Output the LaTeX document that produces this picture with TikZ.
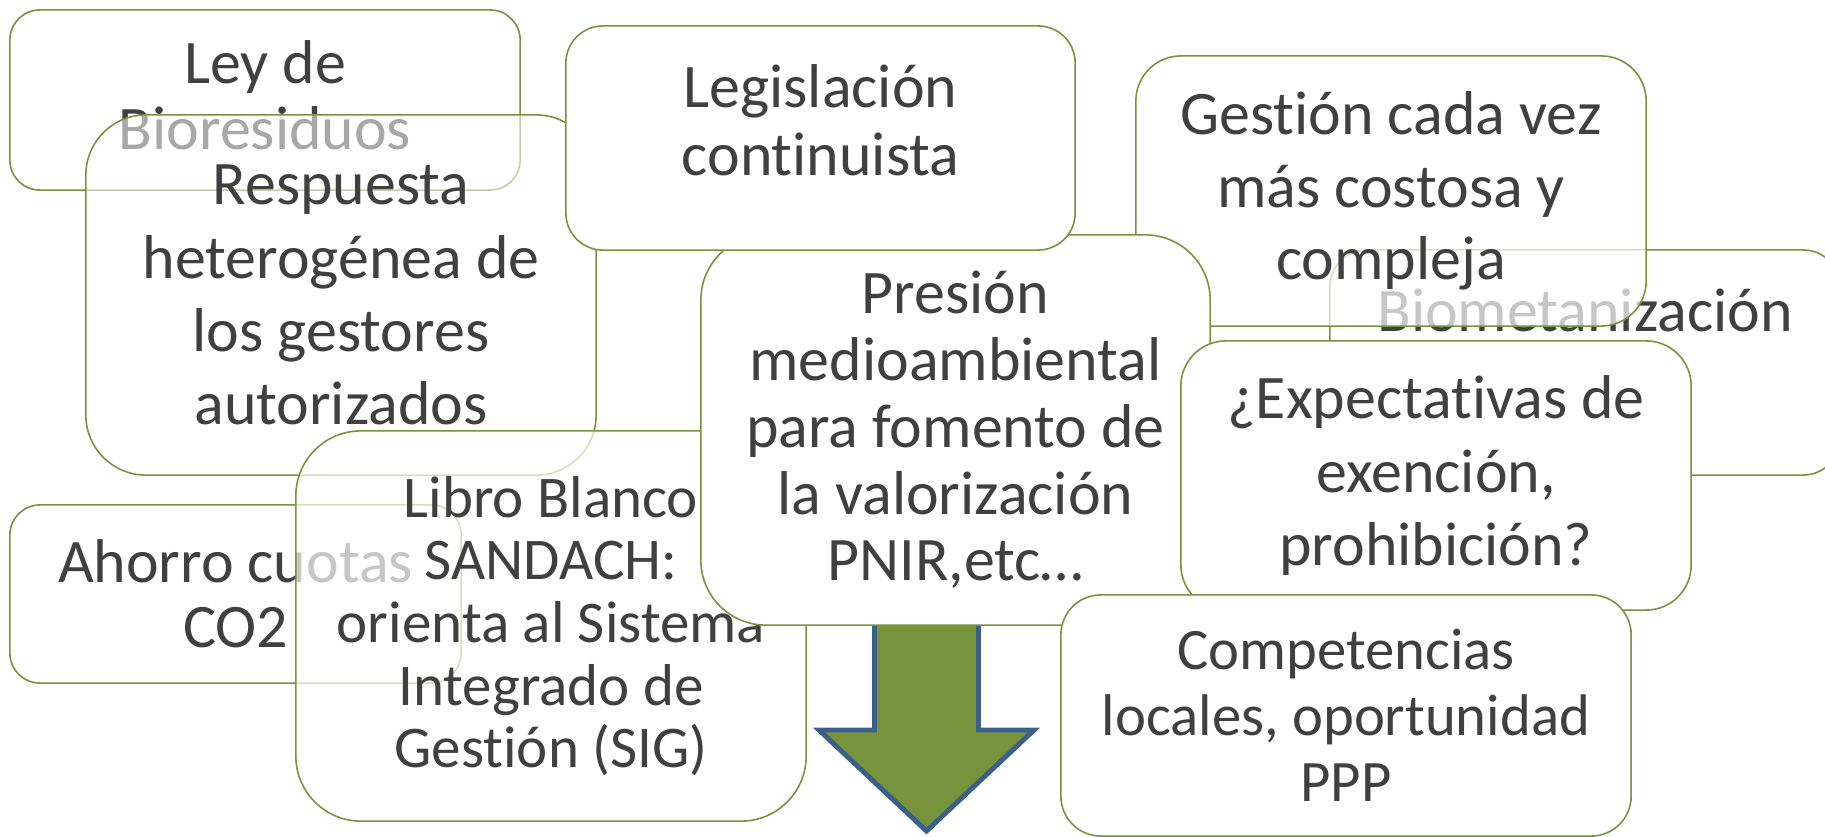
\documentclass[tikz,border=0pt]{standalone}
\usepackage{fontspec}
\setmainfont{Carlito}[Ligatures=CommonOff]
\usepackage{xcolor}
\definecolor{boxgreen}{HTML}{77933C}
\definecolor{txtgray}{HTML}{404040}
\definecolor{arrowblue}{HTML}{3A5F8B}

\begin{document}
\begin{tikzpicture}[x=0.01cm,y=-0.01cm]
        \tikzstyle{every node}+=[inner sep=0pt, outer sep=0pt]
        \tikzstyle{box}=[draw=boxgreen, line width=0.45pt, fill=white, text=txtgray, text opacity=1, align=center, font=\fontsize{17.6}{19}\selectfont]
        \tikzstyle{bigarrow}=[draw=arrowblue, line width=1.4pt, fill=boxgreen, line join=miter]
        \useasboundingbox (0,0) rectangle (1825,837);
        % back row
        \node[box, font=\fontsize{17.6}{18.5}\selectfont, text depth=0.1cm, minimum width=5.1cm, minimum height=1.8cm, rounded corners=0.3cm] (ley) at (265,100) {Ley de\\Bioresiduos};
        \node[box, font=\fontsize{17.6}{20.8}\selectfont, fill opacity=0.55, minimum width=5.1cm, minimum height=3.6cm, rounded corners=0.6cm] (resp) at (341,295) {Respuesta\\heterogénea de\\los gestores\\autorizados};
        \node[box, font=\fontsize{17.6}{18.5}\selectfont, minimum width=4.51cm, minimum height=1.78cm, rounded corners=0.3cm] (ahorro) at (235.5,594) {Ahorro cuotas\\CO2};
        \node[box, font=\fontsize{16.8}{17.8}\selectfont, fill opacity=0.7, minimum width=5.1cm, minimum height=3.9cm, rounded corners=0.65cm] (libro) at (551,626) {Libro Blanco\\SANDACH:\\orienta al Sistema\\Integrado de\\Gestión (SIG)};
        \node[box, minimum width=5.1cm, minimum height=2.25cm, rounded corners=0.37cm, text height=0.43cm, text depth=1.04cm] (bio) at (1585,362.5) {Biometanización};
        \node[box, font=\fontsize{17.6}{20.7}\selectfont, fill opacity=0.7, minimum width=5.1cm, minimum height=2.7cm, rounded corners=0.45cm] (gestion) at (1391,191) {Gestión cada vez\\más costosa y\\compleja};
        % arrow under the central box
        \draw[bigarrow] (874.5,600) -- (874.5,730) -- (819,730) -- (926.5,831) -- (1034,730) -- (978.5,730) -- (978.5,600) -- cycle;
        % front row
        \node[box, minimum width=5.09cm, minimum height=3.9cm, rounded corners=0.65cm] (presion) at (955.5,430) {Presión\\medioambiental\\para fomento de\\la valorización\\PNIR,etc…};
        \node[box, font=\fontsize{17.6}{19.6}\selectfont, text depth=0.36cm, minimum width=5.09cm, minimum height=2.24cm, rounded corners=0.37cm] (legis) at (820.5,138) {Legislación\\continuista};
        \node[box, font=\fontsize{17.6}{21}\selectfont, minimum width=5.1cm, minimum height=2.69cm, rounded corners=0.45cm] (expect) at (1436,475.5) {¿Expectativas de\\exención,\\prohibición?};
        \node[box, font=\fontsize{16.7}{18.7}\selectfont, minimum width=5.7cm, minimum height=2.41cm, rounded corners=0.4cm] (compet) at (1346,715.5) {Competencias\\locales, oportunidad\\PPP};
\end{tikzpicture}
\end{document}
